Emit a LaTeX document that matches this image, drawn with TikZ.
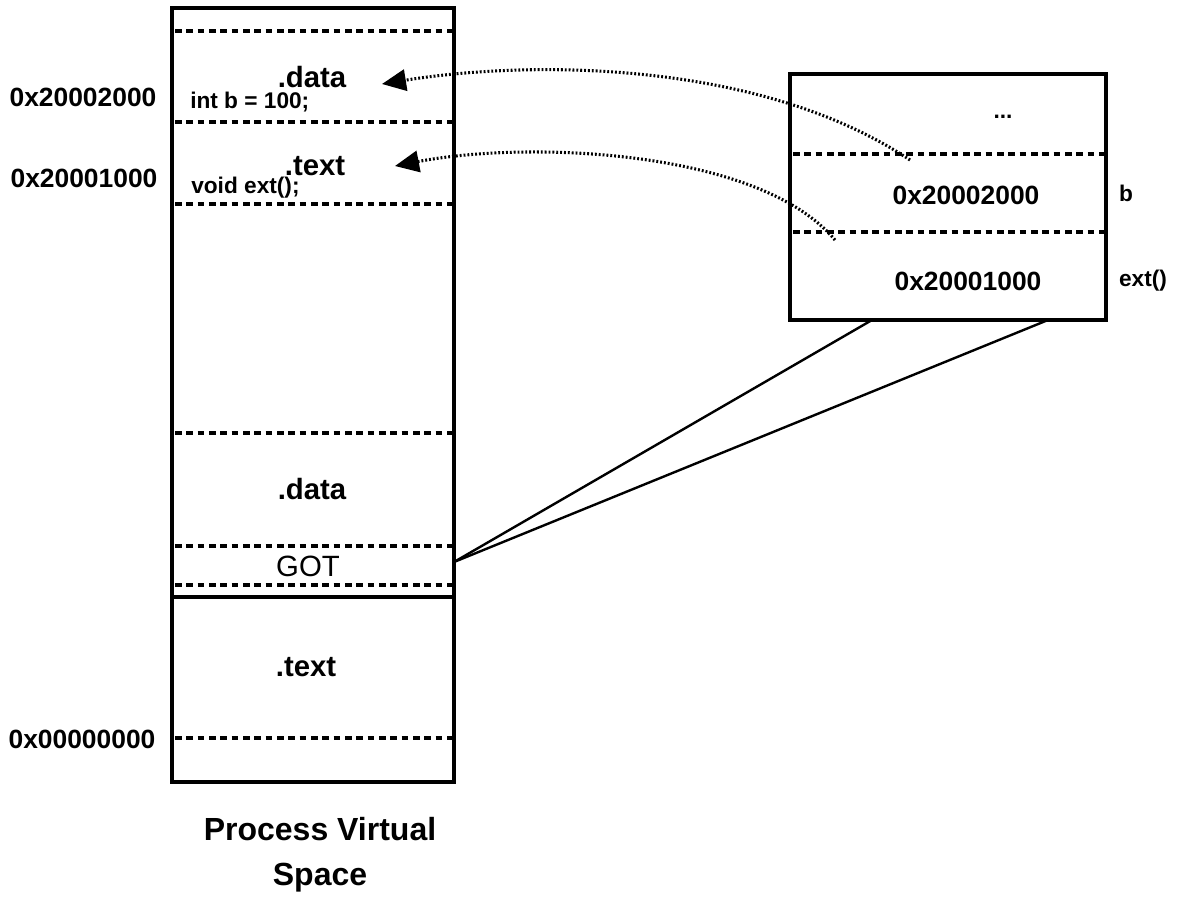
\documentclass[tikz,border=0pt]{standalone}
\usepackage{fontspec}
\setmainfont{Liberation Sans}
\usetikzlibrary{arrows.meta,positioning,calc}

\begin{document}
\begin{tikzpicture}[
      x=0.75pt, y=-0.75pt, >={Triangle[length=18pt, width=16pt]},
      frame/.style={draw, line width=2.5pt, inner sep=0pt},
      sep/.style={line width=2.4pt, dash pattern=on 5pt off 3.5pt},
      ptr/.style={->, line width=2.3pt, dash pattern=on 1.4pt off 1.5pt},
      link/.style={line width=1.8pt},
      seg/.style={font=\fontsize{22}{26}\selectfont\bfseries},
      code/.style={font=\fontsize{17}{20}\selectfont\bfseries, anchor=west, inner sep=0pt},
      addr/.style={font=\fontsize{19.8}{23}\selectfont\bfseries},
      lbl/.style={font=\fontsize{17}{20}\selectfont\bfseries},
    ]
    \useasboundingbox (0,0) rectangle (1188,904);

    % process virtual space
    \node[frame, minimum width=211.5pt, minimum height=580.5pt] (vspace) at (313,395) {};
    \foreach \yy in {31,122,204,433,546,585,738}
      \draw[sep] (175,\yy) -- (452,\yy);
    \draw[line width=2.5pt] (173,597) -- (453,597);

    \node[seg] (udata) at (312,77) {.data};
    \node[code] (intb) at (190,102) {int b = 100;};
    \node[seg] (utext) at (315,166) {.text};
    \node[code] (vext) at (191,188) {void ext();};
    \node[seg] (ldata) at (312,489) {.data};
    \node[font=\fontsize{22}{26}\selectfont] (got) at (308,566) {GOT};
    \node[seg] (ltext) at (306,667) {.text};

    \node[addr] (a2) at (83,97) {0x20002000};
    \node[addr] (a1) at (84,178) {0x20001000};
    \node[addr] (a0) at (82,739) {0x00000000};

    \node[font=\fontsize{24}{34}\selectfont\bfseries, align=center] (title) at (320,855)
      {Process Virtual\\Space};

    % GOT entries
    \node[frame, minimum width=237pt, minimum height=184.5pt] (gotbox) at (948,197) {};
    \foreach \yy in {154,232}
      \draw[sep] (793,\yy) -- (1104,\yy);
    \node[lbl] (dots) at (1003,117) {...};
    \node[addr] (e2) at (966,195) {0x20002000};
    \node[addr] (e1) at (968,281) {0x20001000};
    \node[lbl] (nb) at (1126,193) {b};
    \node[lbl] (next) at (1143,281) {ext()};

    \coordinate (gotR) at (454,562);
    \coordinate (gbL) at (872,320);
    \coordinate (gbR) at (1048,320);
    \draw[link] (gotR) -- (gbL);
    \draw[link] (gotR) -- (gbR);

    % pointers back into the shared object
    \coordinate (p2) at (910,160);
    \coordinate (p1) at (835,240);
    \coordinate (t2) at (382,84);
    \coordinate (t1) at (395,166);
    \draw[ptr] (p2) .. controls (760,60) and (530,60) .. (t2);
    \draw[ptr] (p1) .. controls (760,150) and (530,140) .. (t1);
  \end{tikzpicture}
\end{document}
